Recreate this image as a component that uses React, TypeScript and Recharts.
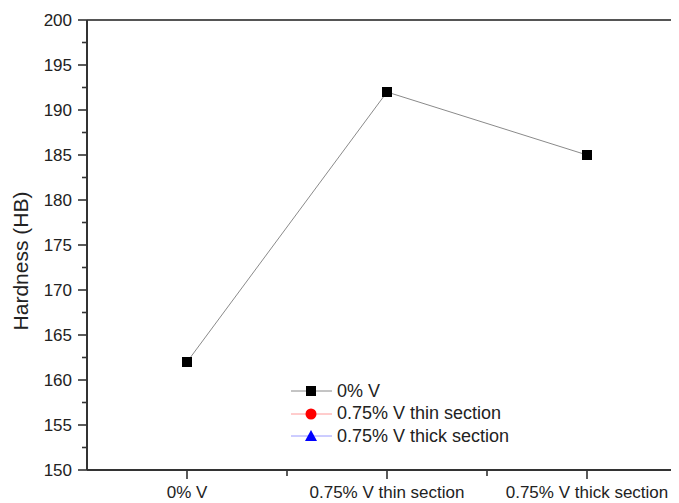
import { LineChart, Line, XAxis, YAxis, ReferenceLine } from "recharts";

const categories = ["0% V", "0.75% V thin section", "0.75% V thick section"];
const catPos = [1, 2, 3];
const hardness = [162, 192, 185];
const thinSection: (number | null)[] = [null, null, null];
const thickSection: (number | null)[] = [null, null, null];

const yMajor = [150, 155, 160, 165, 170, 175, 180, 185, 190, 195, 200];
const yMinor = [152.5, 157.5, 162.5, 167.5, 172.5, 177.5, 182.5, 187.5, 192.5, 197.5];
const xMinor = [1.5, 2.5, 3.5];

const FONT = "Arial, 'Liberation Sans', sans-serif";
const AXIS = "#333";

const series = [
  { key: "v0", name: "0% V", line: "#8a8a8a", fill: "#000", shape: "square" },
  { key: "thin", name: "0.75% V thin section", line: "#ff9a9a", fill: "#ff0000", shape: "circle" },
  { key: "thick", name: "0.75% V thick section", line: "#9a9aff", fill: "#0000ff", shape: "triangle" },
];

const data = catPos.map((x, i) => ({
  x,
  label: categories[i],
  v0: hardness[i],
  thin: thinSection[i],
  thick: thickSection[i],
}));

const yTicks = [...yMajor, ...yMinor].sort((a, b) => a - b);
const xTicks = [...catPos, ...xMinor].sort((a, b) => a - b);

function YTick(props: any) {
  const { x, y, payload } = props;
  const axisX = x + 12;
  const major = payload.value % 5 === 0;
  return (
    <g>
      <line x1={axisX} x2={axisX - (major ? 9 : 5)} y1={y} y2={y} stroke={AXIS} strokeWidth={1.6} />
      {major && (
        <text x={axisX - 15} y={y} dy={6} textAnchor="end" fontSize={17} fontFamily={FONT} fill="#222">
          {payload.value}
        </text>
      )}
    </g>
  );
}

function XTick(props: any) {
  const { x, y, payload } = props;
  const axisY = y - 12;
  const idx = catPos.indexOf(payload.value);
  const major = idx >= 0;
  return (
    <g>
      <line x1={x} x2={x} y1={axisY} y2={axisY + (major ? 9 : 6)} stroke={AXIS} strokeWidth={1.6} />
      {major && (
        <text x={x} y={axisY + 28} textAnchor="middle" fontSize={17} fontFamily={FONT} fill="#222">
          {categories[idx]}
        </text>
      )}
    </g>
  );
}

function YLabel() {
  return (
    <text
      transform="translate(12, 253) rotate(-90)"
      textAnchor="middle"
      dominantBaseline="central"
      fontSize={21}
      fontFamily={FONT}
      fill="#222"
    >
      Hardness (HB)
    </text>
  );
}

function Marker({ shape, fill, cx, cy }: { shape: string; fill: string; cx: number; cy: number }) {
  if (shape === "square") return <rect x={cx - 5} y={cy - 5} width={10} height={10} fill={fill} />;
  if (shape === "circle") return <circle cx={cx} cy={cy} r={5.5} fill={fill} />;
  return <polygon points={`${cx},${cy - 6} ${cx + 6},${cy + 5} ${cx - 6},${cy + 5}`} fill={fill} />;
}

function LegendBox() {
  return (
    <div style={{ position: "absolute", left: 283, top: 372, fontFamily: FONT, fontSize: 18, color: "#222" }}>
      {series.map((s) => (
        <div key={s.key} style={{ display: "flex", alignItems: "center", height: 22.5 }}>
          <svg width={46} height={16}>
            <line x1={0} x2={41} y1={8} y2={8} stroke={s.line} strokeWidth={1} />
            <Marker shape={s.shape} fill={s.fill} cx={20} cy={8} />
          </svg>
          <span>{s.name}</span>
        </div>
      ))}
    </div>
  );
}

export default function App() {
  return (
    <div style={{ position: "relative", width: 671, height: 495, overflow: "hidden" }}>
      <LineChart width={700} height={495} data={data} margin={{ top: 12, right: 21, left: 19, bottom: 0 }}>
        <XAxis
          dataKey="x"
          type="number"
          domain={[0.5, 3.5]}
          ticks={xTicks}
          interval={0}
          height={33}
          tickSize={9}
          tickMargin={3}
          tickLine={false}
          axisLine={{ stroke: AXIS, strokeWidth: 2 }}
          tick={<XTick />}
        />
        <YAxis
          type="number"
          domain={[150, 200]}
          ticks={yTicks}
          interval={0}
          width={60}
          tickSize={9}
          tickMargin={3}
          tickLine={false}
          axisLine={{ stroke: AXIS, strokeWidth: 2 }}
          tick={<YTick />}
          label={{ content: () => <YLabel /> }}
        />
        <ReferenceLine y={200} stroke="#555" strokeWidth={2} ifOverflow="visible" />
        {series.map((s) => (
          <Line
            key={s.key}
            dataKey={s.key}
            name={s.name}
            stroke={s.line}
            strokeWidth={1}
            isAnimationActive={false}
            dot={(p: any) =>
              p.cy == null ? <g key={`${s.key}-${p.index}`} /> : (
                <g key={`${s.key}-${p.index}`}>
                  <Marker shape={s.shape} fill={s.fill} cx={p.cx} cy={p.cy} />
                </g>
              )
            }
            activeDot={false}
          />
        ))}
      </LineChart>
      <LegendBox />
    </div>
  );
}
